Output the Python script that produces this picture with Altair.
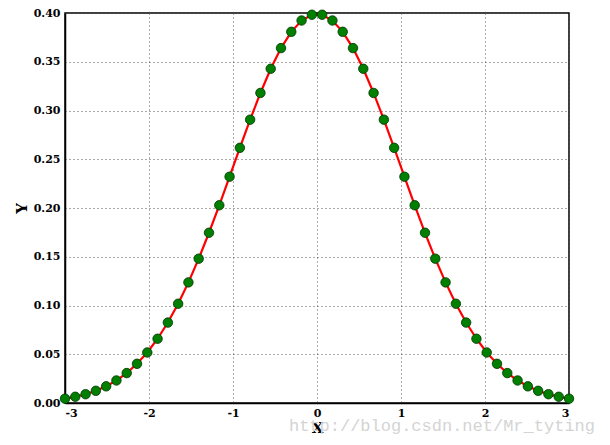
import altair as alt
import pandas as pd

x_vals = [-3.0000, -2.8776, -2.7551, -2.6327, -2.5102, -2.3878, -2.2653, -2.1429, -2.0204, -1.8980,
          -1.7755, -1.6531, -1.5306, -1.4082, -1.2857, -1.1633, -1.0408, -0.9184, -0.7959, -0.6735,
          -0.5510, -0.4286, -0.3061, -0.1837, -0.0612,
          0.0612, 0.1837, 0.3061, 0.4286, 0.5510, 0.6735, 0.7959, 0.9184, 1.0408, 1.1633,
          1.2857, 1.4082, 1.5306, 1.6531, 1.7755, 1.8980, 2.0204, 2.1429, 2.2653, 2.3878,
          2.5102, 2.6327, 2.7551, 2.8776, 3.0000]
y_left = [0.0044, 0.0064, 0.0090, 0.0125, 0.0171, 0.0231, 0.0307, 0.0402, 0.0518, 0.0659,
          0.0825, 0.1018, 0.1237, 0.1480, 0.1746, 0.2028, 0.2321, 0.2617, 0.2906, 0.3180,
          0.3428, 0.3640, 0.3807, 0.3923, 0.3982]
y_vals = y_left + y_left[::-1]

x_ticks = [-3, -2, -1, 0, 1, 2, 3]
y_ticks = [0.00, 0.05, 0.10, 0.15, 0.20, 0.25, 0.30, 0.35, 0.40]

df = pd.DataFrame({"x": x_vals, "y": y_vals})

font = "DejaVu Serif"

xenc = alt.X("x:Q", scale=alt.Scale(domain=[-3, 3], nice=False, zero=False),
             axis=alt.Axis(values=x_ticks, labelExpr="'' + datum.value", title="X", grid=True,
                           gridColor="#555555", gridDash=[1, 3], gridWidth=1,
                           domainColor="black", domainWidth=1.5, ticks=False,
                           labelFont=font, labelFontWeight="bold", labelFontSize=11,
                           labelColor="black", labelPadding=4,
                           titleFont=font, titleFontWeight="bold", titleFontSize=15,
                           titleColor="black", titlePadding=2))
yenc = alt.Y("y:Q", scale=alt.Scale(domain=[0, 0.4], nice=False),
             axis=alt.Axis(values=y_ticks, format=".2f", title="Y", grid=True,
                           gridColor="#555555", gridDash=[1, 3], gridWidth=1,
                           domainColor="black", domainWidth=1.5, ticks=False,
                           labelFont=font, labelFontWeight="bold", labelFontSize=11,
                           labelColor="black", labelPadding=5,
                           titleFont=font, titleFontWeight="bold", titleFontSize=15,
                           titleColor="black", titlePadding=4))

line = alt.Chart(df).mark_line(color="red", strokeWidth=2.2).encode(x=xenc, y=yenc)
pts = alt.Chart(df).mark_point(filled=True, fill="#007f00", stroke="#003300",
                               strokeWidth=0.8, size=90, opacity=1).encode(x="x:Q", y="y:Q")

wm = alt.Chart(pd.DataFrame({"t": ["http://blog.csdn.net/Mr_tyting"]})).mark_text(
    font="Liberation Mono", fontSize=17, color="#d4d4d4", align="right", baseline="middle"
).encode(text="t:N", x=alt.value(530), y=alt.value(413))

chart = alt.layer(wm, line, pts).properties(
    width=504, height=390,
    autosize=alt.AutoSizeParams(type="none"),
    padding={"left": 57, "top": 5, "right": 33, "bottom": 34},
).configure_view(stroke="black", strokeWidth=1.5)

chart.save("out.html", embed_options={"renderer": "svg", "actions": False})
